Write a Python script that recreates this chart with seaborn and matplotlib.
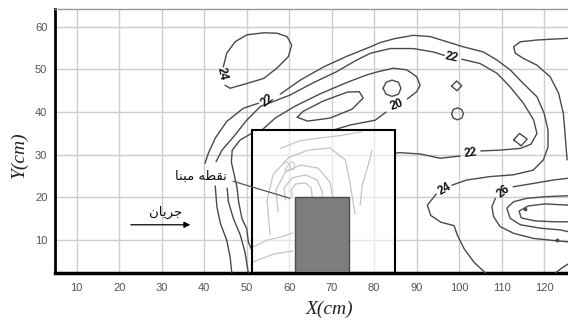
import matplotlib
matplotlib.use('Agg')
import matplotlib.pyplot as plt
from matplotlib.patches import Rectangle
import seaborn as sns

# axis ranges and ticks (cm)
x_lim = (4.9, 125.6)
y_lim = (2.3, 64.1)
x_ticks = list(range(10, 130, 10))
y_ticks = list(range(10, 70, 10))

# measurement window and pier
box_x0, box_x1, box_top = 51.3, 85.0, 35.8
pier_x0, pier_x1, pier_top = 61.4, 74.0, 20.0

# contour lines (cm); gaps are where labels sit
loop24_x = [44.9, 46.1, 50.0, 54.0, 57.1, 59.8, 60.6, 59.5, 57.1, 54.0, 50.0, 47.3, 45.3, 44.5]
loop24_y = [46.3, 45.6, 46.7, 47.9, 50.3, 53.0, 55.7, 57.7, 58.5, 58.6, 58.1, 56.5, 53.8, 50.6]

outer_a_x = [46.5, 46.1, 45.3, 43.8, 43.0, 42.6]
outer_a_y = [2.3, 6.1, 10.0, 14.0, 17.8, 22.7]
outer_b_x = [40.2, 41.0, 42.6, 45.3, 49.2, 52.8]
outer_b_y = [28.0, 30.4, 33.9, 37.8, 40.9, 42.1]
outer_c_x = [57.9, 62.6, 68.1, 73.6, 79.1, 81.4, 84.7, 89.2, 93.2, 97.1, 101.0, 105.7, 108.9,
             112.0, 115.1, 118.3, 120.0, 120.9, 120.9, 119.8, 117.4, 112.7, 107.3, 101.8, 98.3]
outer_c_y = [44.2, 47.5, 50.6, 53.1, 55.3, 56.3, 57.2, 58.0, 57.7, 56.5, 55.3, 54.1, 52.2,
             49.9, 46.7, 43.6, 39.7, 35.8, 31.8, 28.8, 26.4, 25.3, 24.9, 24.1, 22.9]
outer_d_x = [94.6, 92.5, 93.3, 95.7, 98.8, 99.6, 101.2, 103.5, 106.2]
outer_d_y = [20.8, 18.2, 15.8, 14.2, 13.4, 11.1, 7.9, 4.8, 2.3]

c22_a_x = [50.4, 49.6, 48.5, 46.9, 45.7, 45.4]
c22_a_y = [2.3, 7.2, 11.2, 15.0, 19.0, 22.2]
c22_b_x = [42.8, 44.2, 46.9, 50.0, 53.2, 60.2, 65.7, 71.2, 75.5, 79.1, 83.8, 89.2, 93.9, 96.5]
c22_b_y = [28.4, 31.1, 34.2, 38.1, 41.3, 44.0, 46.9, 49.5, 52.0, 53.8, 54.9, 54.9, 54.1, 53.3]
c22_c_x = [100.6, 104.9, 108.9, 112.0, 115.1, 117.5, 118.3, 116.9, 114.4, 109.6, 105.1]
c22_c_y = [52.4, 51.4, 49.1, 45.9, 42.1, 38.2, 35.0, 32.5, 31.5, 31.1, 30.9]
c22_d_x = [100.2, 95.5, 90.8, 86.1, 85.0]
c22_d_y = [29.7, 29.2, 30.2, 30.5, 30.4]

c20_a_x = [53.6, 56.7, 61.4, 67.3, 73.2, 77.9, 80.6, 84.5, 87.7, 90.0, 90.8, 90.0, 87.8]
c20_a_y = [35.8, 38.6, 41.4, 44.3, 46.8, 48.6, 49.4, 50.3, 49.9, 48.3, 46.3, 44.8, 43.1]
c20_b_x = [82.8, 80.2, 74.4, 70.4]
c20_b_y = [40.0, 38.1, 37.0, 35.8]

line3_x = [51.3, 48.5, 46.6, 46.4, 47.7, 48.1, 48.9, 50.0, 50.4, 51.2]
line3_y = [35.1, 33.5, 31.1, 28.3, 22.5, 19.0, 15.0, 12.7, 9.6, 7.7]

elong_x = [61.9, 64.3, 69.6, 74.8, 77.4, 76.5, 73.7, 68.0, 63.3, 61.9]
elong_y = [38.8, 37.9, 38.6, 40.7, 43.3, 44.8, 44.7, 42.6, 40.2, 38.8]
small_x = [82.1, 82.8, 84.2, 85.7, 86.3, 85.7, 84.2, 82.8, 82.1]
small_y = [45.6, 47.0, 47.5, 47.0, 45.6, 44.2, 43.7, 44.2, 45.6]
ring1_x = [98.2, 99.4, 100.6, 99.5, 98.2]
ring1_y = [46.1, 47.3, 46.2, 45.0, 46.1]
ring2_x = [98.2, 98.6, 99.6, 100.6, 101.0, 100.6, 99.6, 98.6, 98.2]
ring2_y = [39.6, 40.6, 41.0, 40.6, 39.6, 38.6, 38.2, 38.6, 39.6]
diamond_x = [112.8, 114.2, 116.0, 114.6, 112.8]
diamond_y = [33.5, 35.0, 33.7, 32.1, 33.5]

ur_x = [125.6, 118.3, 114.4, 112.8, 113.2, 115.1, 118.3, 121.4, 123.4, 124.5, 124.9, 125.2, 125.4]
ur_y = [57.3, 56.9, 56.5, 55.3, 53.8, 52.6, 51.0, 48.3, 44.4, 39.7, 35.0, 31.1, 28.8]

c26_a_x = [125.6, 122.2, 117.5, 112.7]
c26_a_y = [24.5, 24.1, 23.3, 22.5]
c26_b_x = [108.5, 107.7, 108.1, 109.6, 112.8, 117.5, 121.4, 125.6]
c26_b_y = [19.8, 17.8, 15.5, 13.2, 11.6, 10.4, 10.0, 9.6]
c27_x = [125.6, 120.6, 115.9, 112.8, 111.2, 112.0, 114.4, 119.1, 123.8, 125.6]
c27_y = [20.4, 20.2, 19.8, 19.0, 17.5, 15.1, 13.6, 12.8, 12.4, 12.0]
c28_x = [125.6, 120.2, 116.2, 114.1, 114.6, 117.9, 122.6, 125.6]
c28_y = [18.2, 18.5, 18.0, 16.8, 15.2, 14.5, 14.3, 14.3]
br_x = [122.6, 124.2, 125.6]
br_y = [2.3, 3.5, 4.4]
dots_x = [115.5, 123.0]
dots_y = [17.3, 10.0]

# faint contours inside the window
f1_x = [60.7, 60.5, 61.6, 63.8, 65.2, 65.4]
f1_y = [20.1, 21.8, 23.2, 23.4, 22.2, 20.1]
f2_x = [59.1, 58.8, 60.7, 63.8, 66.6, 67.8, 67.8]
f2_y = [19.4, 22.2, 24.6, 25.3, 24.1, 21.3, 19.4]
f3_x = [57.4, 56.9, 59.1, 62.6, 66.8, 69.6, 70.4]
f3_y = [16.6, 21.8, 26.0, 27.6, 26.9, 23.6, 19.4]
f4_x = [55.5, 54.8, 56.2, 59.8, 64.5, 69.6, 73.2, 74.4, 75.5]
f4_y = [11.2, 19.4, 25.3, 29.3, 31.1, 31.6, 28.8, 22.9, 16.0]
f5_x = [58.0, 62.5, 67.0, 72.0, 77.0]
f5_y = [31.5, 33.3, 33.9, 34.5, 35.4]
f6_x = [79.5, 78.6, 77.2, 76.7]
f6_y = [31.1, 27.6, 22.9, 18.2]
f7_x = [51.5, 54.8, 57.9, 60.9]
f7_y = [8.4, 10.0, 10.7, 11.7]
f8_x = [51.5, 56.2, 60.9]
f8_y = [4.9, 6.7, 7.5]

# contour labels
lab_text = ['24', '22', '20', '22', '22', '24', '26']
lab_x = [44.2, 55.0, 85.2, 98.3, 102.6, 96.5, 110.4]
lab_y = [49.1, 42.8, 41.7, 52.9, 30.4, 22.0, 21.3]
lab_rot = [-78, 40, 20, -12, 8, 30, 40]

# Persian annotations, shaped glyphs in visual order
flow_text = '\uFEE5\uFE8E\uFBFE\uFEAE\uFE9F'          # جریان
ref_text = '\uFE8E\uFEE8\uFE92\uFEE3 \uFEEA\uFEC4\uFED8\uFEE7'  # نقطه مبنا
flow_pos = (30.9, 16.6)
arrow_from, arrow_to = (22.1, 13.6), (37.4, 13.6)
ref_pos = (39.3, 25.0)
leader_from, leader_to = (46.8, 23.8), (60.2, 19.8)

sns.set_theme(style='whitegrid')
plt.rcParams['font.family'] = ['Liberation Sans', 'DejaVu Sans']

fig = plt.figure(figsize=(5.68, 3.24), dpi=100)
ax = fig.add_axes([0.0968, 0.1574, 0.9032, 0.8139])
ax.set_facecolor('white')

dark = '#4a4a4a'
faint = '#c4c4c4'


def draw(xs, ys, color=dark, lw=1.0, z=3):
    sns.lineplot(x=xs, y=ys, sort=False, estimator=None, color=color,
                 linewidth=lw, ax=ax, zorder=z)


# window background lightens the grid
ax.add_patch(Rectangle((box_x0, y_lim[0]), box_x1 - box_x0, box_top - y_lim[0],
                       facecolor='white', alpha=0.55, edgecolor='none', zorder=1))

for fx, fy in [(f1_x, f1_y), (f2_x, f2_y), (f3_x, f3_y), (f4_x, f4_y),
               (f5_x, f5_y), (f6_x, f6_y), (f7_x, f7_y), (f8_x, f8_y)]:
    draw(fx, fy, color=faint, lw=0.9, z=2)

lines = [(loop24_x, loop24_y), (outer_a_x, outer_a_y), (outer_b_x, outer_b_y),
         (outer_c_x, outer_c_y), (outer_d_x, outer_d_y),
         (c22_a_x, c22_a_y), (c22_b_x, c22_b_y), (c22_c_x, c22_c_y), (c22_d_x, c22_d_y),
         (c20_a_x, c20_a_y), (c20_b_x, c20_b_y), (line3_x, line3_y),
         (elong_x, elong_y), (small_x, small_y), (ring1_x, ring1_y), (ring2_x, ring2_y),
         (diamond_x, diamond_y), (ur_x, ur_y), (c26_a_x, c26_a_y), (c26_b_x, c26_b_y),
         (c27_x, c27_y), (c28_x, c28_y), (br_x, br_y)]
for lx, ly in lines:
    draw(lx, ly)
ax.scatter(dots_x, dots_y, s=3, color=dark, zorder=3)

ax.add_patch(Rectangle((pier_x0, y_lim[0]), pier_x1 - pier_x0, pier_top - y_lim[0],
                       facecolor='#7d7d7d', edgecolor='#4d4d4d', lw=1, zorder=4))
ax.add_patch(Rectangle((box_x0, y_lim[0]), box_x1 - box_x0, box_top - y_lim[0],
                       fill=False, edgecolor='black', lw=1.5, zorder=5))

for t, x, y, r in zip(lab_text, lab_x, lab_y, lab_rot):
    ax.text(x, y, t, rotation=r, ha='center', va='center', fontsize=8.5,
            fontweight='bold', color='#111111', zorder=6)
ax.text(60.2, 27.1, '20', rotation=5, ha='center', va='center', fontsize=8.5,
        color=faint, zorder=2)

ax.annotate('', xy=arrow_to, xytext=arrow_from,
            arrowprops=dict(arrowstyle='-|>', color='black', lw=0.9,
                            mutation_scale=9), zorder=6)
ax.text(*flow_pos, flow_text, ha='center', va='center', fontsize=9.5,
        family=['DejaVu Sans'], color='#111111', zorder=6)
ax.text(*ref_pos, ref_text, ha='center', va='center', fontsize=9.5,
        family=['DejaVu Sans'], color='#111111', zorder=6)
ax.plot([leader_from[0], leader_to[0]], [leader_from[1], leader_to[1]],
        color='#555555', lw=0.9, zorder=5)

ax.set_xlim(*x_lim)
ax.set_ylim(*y_lim)
ax.set_xticks(x_ticks)
ax.set_yticks(y_ticks)
ax.grid(True, color='#cdcdcd', lw=1.0)
ax.set_axisbelow(True)
ax.tick_params(axis='both', direction='out', colors='#555555', labelsize=8,
               length=3.5, width=0.8, pad=2)
ax.tick_params(axis='x', pad=4)

for side in ['right']:
    ax.spines[side].set_visible(False)
ax.spines['left'].set_color('black')
ax.spines['left'].set_linewidth(2.0)
ax.spines['bottom'].set_color('black')
ax.spines['bottom'].set_linewidth(2.5)
ax.spines['top'].set_color('#999999')
ax.spines['top'].set_linewidth(1.0)

ax.set_xlabel('X(cm)', fontsize=14, style='italic', family=['Liberation Serif'], color='#222222')
ax.set_ylabel('Y(cm)', fontsize=14, style='italic', family=['Liberation Serif'], color='#222222')
ax.xaxis.set_label_coords(0.536, -0.105)
ax.yaxis.set_label_coords(-0.053, 0.447)

fig.savefig('out.png', dpi=100)
